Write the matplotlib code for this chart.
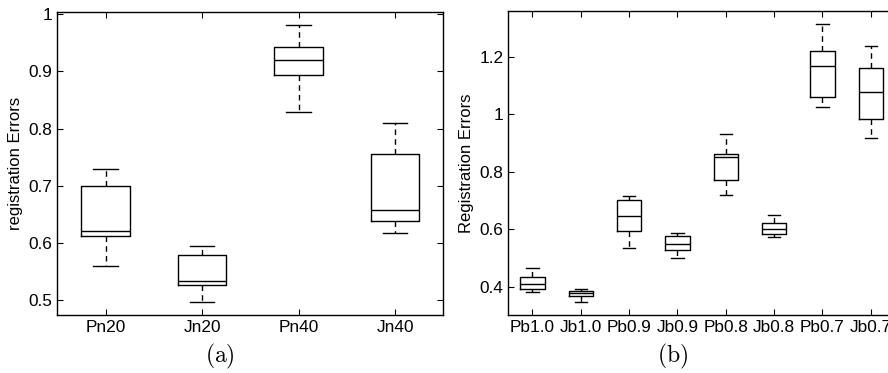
import matplotlib
matplotlib.use("Agg")
from matplotlib import pyplot as plt

plt.rcParams['font.family'] = ['Liberation Sans', 'DejaVu Sans']
plt.rcParams['mathtext.fontset'] = 'cm'

# panel (a): five-number summaries
labels_a = ["Pn20", "Jn20", "Pn40", "Jn40"]
low_a = [0.560, 0.497, 0.829, 0.617]
q1_a = [0.612, 0.527, 0.893, 0.638]
med_a = [0.621, 0.533, 0.920, 0.657]
q3_a = [0.699, 0.579, 0.942, 0.755]
high_a = [0.730, 0.595, 0.982, 0.810]

# panel (b)
labels_b = ["Pb1.0", "Jb1.0", "Pb0.9", "Jb0.9", "Pb0.8", "Jb0.8", "Pb0.7", "Jb0.7"]
low_b = [0.380, 0.348, 0.534, 0.499, 0.720, 0.574, 1.025, 0.918]
q1_b = [0.392, 0.368, 0.595, 0.527, 0.772, 0.583, 1.060, 0.983]
med_b = [0.408, 0.377, 0.647, 0.548, 0.852, 0.602, 1.168, 1.078]
q3_b = [0.433, 0.385, 0.701, 0.577, 0.861, 0.621, 1.220, 1.163]
high_b = [0.464, 0.393, 0.714, 0.588, 0.931, 0.649, 1.313, 1.239]


def make_stats(labels, low, q1, med, q3, high):
    stats = []
    for i in range(len(labels)):
        stats.append(dict(label=labels[i], whislo=low[i], q1=q1[i], med=med[i],
                          q3=q3[i], whishi=high[i], fliers=[]))
    return stats


def draw(ax, stats, ylabel):
    ax.bxp(stats, widths=0.5, showfliers=False,
           boxprops=dict(color='black', linewidth=1.0),
           medianprops=dict(color='black', linewidth=1.0),
           whiskerprops=dict(color='black', linewidth=1.0, linestyle=(0, (4, 3))),
           capprops=dict(color='black', linewidth=1.0))
    ax.set_ylabel(ylabel, fontsize=12)
    ax.tick_params(direction='in', top=True, right=True, length=4,
                   labelsize=12.4, width=0.8)
    for s in ax.spines.values():
        s.set_linewidth(1.0)


fig = plt.figure(figsize=(8.88, 3.73), dpi=100)
W, H = 888.0, 373.0

ax1 = fig.add_axes([57.3 / W, 1 - 315 / H, (443.3 - 57.3) / W, (315 - 12.3) / H])
draw(ax1, make_stats(labels_a, low_a, q1_a, med_a, q3_a, high_a), "registration Errors")
ax1.set_xlim(0.5, 4.5)
ax1.set_ylim(0.474, 1.0035)
ax1.set_yticks([0.5, 0.6, 0.7, 0.8, 0.9, 1.0])
ax1.set_yticklabels(["0.5", "0.6", "0.7", "0.8", "0.9", "1"])

ax2 = fig.add_axes([508.3 / W, 1 - 315 / H, (895 - 508.3) / W, (315 - 11) / H])
draw(ax2, make_stats(labels_b, low_b, q1_b, med_b, q3_b, high_b), "Registration Errors")
ax2.set_xlim(0.5, 8.5)
ax2.set_ylim(0.301, 1.36)
ax2.set_yticks([0.4, 0.6, 0.8, 1.0, 1.2])
ax2.set_yticklabels(["0.4", "0.6", "0.8", "1", "1.2"])

fig.text(220 / W, 1 - 356 / H, r"$\mathrm{(a)}$", ha='center', va='center', fontsize=17)
fig.text(673 / W, 1 - 356 / H, r"$\mathrm{(b)}$", ha='center', va='center', fontsize=17)

fig.savefig("out.png", dpi=100)
